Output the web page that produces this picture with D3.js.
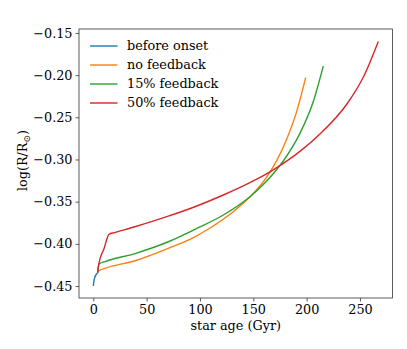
<!DOCTYPE html>
<html>
<head>
<meta charset="utf-8">
<script src="https://cdn.jsdelivr.net/npm/d3@7"></script>
<style>
  body { margin: 0; background: #fff; }
  text { font-family: "DejaVu Serif", serif; fill: #000; }
</style>
</head>
<body>
<div id="chart"></div>
<script>
// series: star age (Gyr) vs log(R/Rsun)
var beforeAge = [0, 0.66, 1.6, 2.8, 4.1];
var beforeVal = [-0.4500, -0.4435, -0.4390, -0.4362, -0.4342];

var noFbAge = [4.1, 5.3, 11.0, 39.1, 70.3, 95.3, 106.3, 131.2, 146.9, 163.5, 171.9, 181.3, 190.7, 199.1];
var noFbVal = [-0.4342, -0.4319, -0.4290, -0.4200, -0.4053, -0.3916, -0.3836, -0.3619, -0.3442, -0.3190, -0.3013, -0.2759, -0.2430, -0.2030];

var fb15Age = [4.1, 5.3, 11.0, 39.1, 70.3, 95.3, 121.9, 146.9, 168.7, 178.1, 193.7, 206.2, 215.6];
var fb15Val = [-0.4342, -0.4239, -0.4210, -0.4115, -0.3975, -0.3828, -0.3658, -0.3441, -0.3169, -0.3018, -0.2691, -0.2316, -0.1893];

var fb50Age = [4.1, 5.3, 10.0, 14.7, 20.0, 39.1, 70.3, 95.3, 121.9, 153.2, 168.7, 193.7, 212.5, 237.6, 253.1, 267.2];
var fb50Val = [-0.4342, -0.4231, -0.4059, -0.3887, -0.3867, -0.3797, -0.3672, -0.3560, -0.3421, -0.3233, -0.3122, -0.2904, -0.2698, -0.2345, -0.2025, -0.1600];

var seriesNames = ["before onset", "no feedback", "15% feedback", "50% feedback"];
var seriesColors = ["#1f77b4", "#ff7f0e", "#2ca02c", "#d62728"];
var xTicks = [0, 50, 100, 150, 200, 250];
var yTicks = [-0.45, -0.40, -0.35, -0.30, -0.25, -0.20, -0.15];

var series = [
  {age: beforeAge, val: beforeVal},
  {age: noFbAge, val: noFbVal},
  {age: fb15Age, val: fb15Val},
  {age: fb50Age, val: fb50Val}
];

var width = 407, height = 349;
var plotL = 79, plotR = 392.5, plotT = 29, plotB = 298;
var fontPx = "12.8px";

var svg = d3.select("#chart").append("svg")
  .attr("width", width)
  .attr("height", height);

var x = d3.scaleLinear().domain([-13.4, 280.5]).range([plotL, plotR]);
var y = d3.scaleLinear().domain([-0.4642, -0.1453]).range([plotB, plotT]);

var fmt = function(d) { return d3.format(".2f")(d).replace("-", "\u2212"); };

var xAxis = svg.append("g")
  .attr("transform", "translate(0," + plotB + ")")
  .call(d3.axisBottom(x).tickValues(xTicks).tickSize(3.5).tickPadding(3).tickFormat(d3.format("d")));
var yAxis = svg.append("g")
  .attr("transform", "translate(" + plotL + ",0)")
  .call(d3.axisLeft(y).tickValues(yTicks).tickSize(3.5).tickPadding(3).tickFormat(fmt));

[xAxis, yAxis].forEach(function(g) {
  g.select(".domain").remove();
  g.selectAll("line").attr("stroke", "#333").attr("stroke-width", 0.8);
  g.selectAll("text").style("font-family", "DejaVu Serif, serif").style("font-size", fontPx).attr("fill", "#000");
});

// frame
svg.append("rect")
  .attr("x", plotL).attr("y", plotT)
  .attr("width", plotR - plotL).attr("height", plotB - plotT)
  .attr("fill", "none").attr("stroke", "#333").attr("stroke-width", 0.8);

var line = d3.line()
  .x(function(d) { return x(d[0]); })
  .y(function(d) { return y(d[1]); })
  .curve(d3.curveMonotoneX);

series.forEach(function(s, i) {
  var pts = s.age.map(function(a, j) { return [a, s.val[j]]; });
  svg.append("path")
    .datum(pts)
    .attr("d", line)
    .attr("fill", "none")
    .attr("stroke", seriesColors[i])
    .attr("stroke-width", 1.4);
});

// legend
var legend = svg.append("g");
seriesNames.forEach(function(name, i) {
  var ly = 46 + i * 19;
  legend.append("line")
    .attr("x1", 90).attr("x2", 117.5)
    .attr("y1", ly).attr("y2", ly)
    .attr("stroke", seriesColors[i]).attr("stroke-width", 1.4);
  legend.append("text")
    .attr("x", 127).attr("y", ly + 4.4)
    .style("font-size", fontPx)
    .text(name);
});

// axis labels
svg.append("text")
  .attr("x", (plotL + plotR) / 2).attr("y", 330)
  .attr("text-anchor", "middle")
  .style("font-size", fontPx)
  .text("star age (Gyr)");

var ylab = svg.append("text")
  .attr("transform", "translate(27," + ((plotT + plotB) / 2 - 3) + ") rotate(-90)")
  .attr("text-anchor", "middle")
  .style("font-size", fontPx);
ylab.append("tspan").text("log(R/R");
ylab.append("tspan").attr("dy", 3).style("font-size", "9px").text("\u2299");
ylab.append("tspan").attr("dy", -3).text(")");
</script>
</body>
</html>
